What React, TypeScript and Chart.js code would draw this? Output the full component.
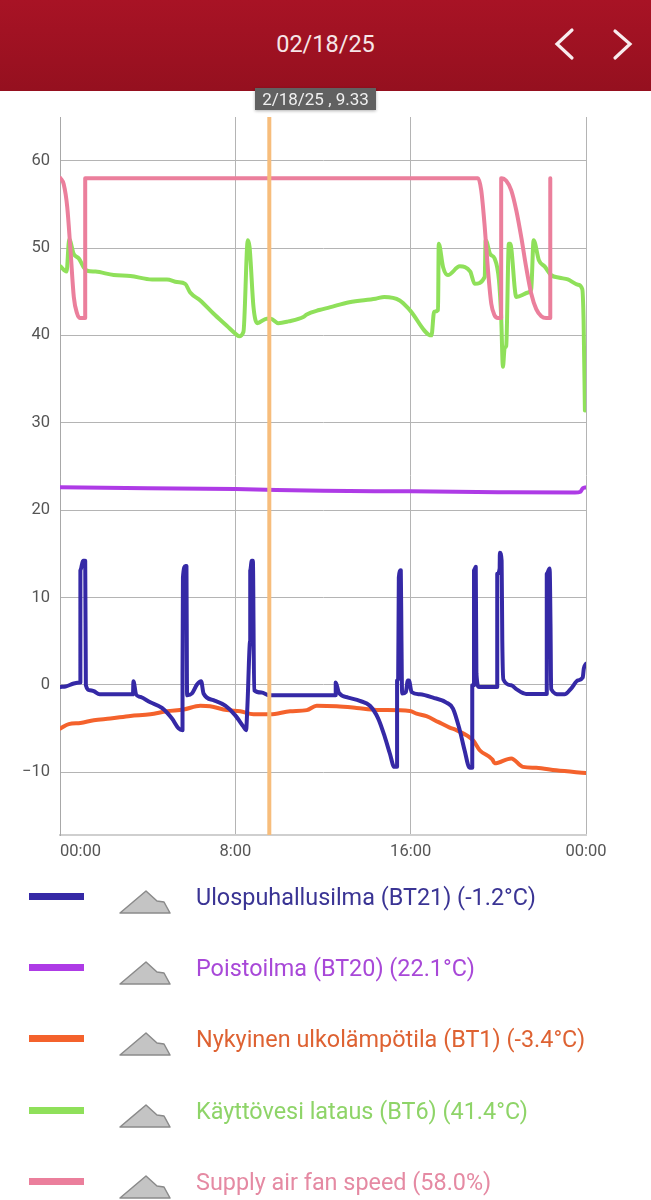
import { useEffect, useRef } from "react"
import { Chart, registerables } from "chart.js"

Chart.register(...registerables)

// [hour of day, value]
const supplyAir = [[0.02,-0.25],[0.25,-0.2],[0.63,0.14],[0.93,0.25],[0.93,13.1],[1.05,14.2],[1.15,14.2],[1.18,-0.06],[1.36,-0.63],[1.54,-0.74],[1.81,-1.1],[3.33,-1.1],[3.35,0.4],[3.47,-1.1],[3.67,-1.4],[4.12,-2.0],[4.65,-2.65],[5.11,-3.87],[5.41,-5.0],[5.59,-5.2],[5.59,1.09],[5.61,12.3],[5.73,13.6],[5.77,13.6],[5.79,1.3],[5.8,-1.2],[6.02,-1.0],[6.25,0.02],[6.44,0.4],[6.55,-1.0],[7.0,-1.77],[7.54,-2.4],[8.0,-3.5],[8.37,-4.8],[8.49,-5.2],[8.55,-2.5],[8.68,5.1],[8.68,13.1],[8.75,14.2],[8.8,14.2],[8.86,-0.63],[9.2,-0.9],[9.55,-1.2],[12.58,-1.2],[12.58,0.25],[12.73,-0.94],[13.15,-1.47],[13.68,-1.85],[14.14,-2.4],[14.52,-3.87],[14.82,-5.97],[15.05,-7.87],[15.25,-9.4],[15.38,-9.4],[15.38,0.5],[15.43,0.7],[15.46,12.3],[15.55,13.1],[15.58,5.1],[15.61,-1.0],[15.78,-0.82],[15.87,0.5],[15.92,0.5],[16.04,-0.82],[16.42,-1.09],[17.02,-1.47],[17.63,-2.04],[17.93,-2.72],[18.24,-5.2],[18.46,-7.5],[18.69,-9.5],[18.81,-9.5],[18.81,-0.06],[18.89,-0.06],[18.89,13.1],[18.97,13.5],[19.0,1.3],[19.12,-0.25],[19.95,-0.25],[19.95,12.7],[20.06,13.3],[20.07,15.1],[20.15,14.2],[20.18,5.1],[20.23,0.6],[20.59,-0.06],[20.82,-0.5],[21.27,-1.05],[22.21,-1.05],[22.21,12.7],[22.34,13.3],[22.38,7],[22.41,-0.5],[22.79,-1.1],[23.02,-1.1],[23.32,-0.43],[23.63,0.5],[23.85,0.82],[23.9,1.85],[24,2.4]]
const exhaustAir = [[0,22.6],[4,22.5],[8,22.4],[12,22.2],[16,22.15],[20,22.05],[23.5,22.0],[23.75,22.1],[23.85,22.5],[24,22.6]]
const outdoor = [[0.02,-5.0],[0.4,-4.5],[0.93,-4.37],[1.54,-4.06],[2.3,-3.87],[3.21,-3.57],[4.12,-3.38],[4.88,-3.03],[5.64,-2.84],[6.4,-2.4],[6.85,-2.46],[7.61,-2.9],[8.22,-3.03],[8.83,-3.38],[9.59,-3.38],[10.5,-3.03],[11.26,-2.9],[11.71,-2.4],[12.62,-2.46],[13.53,-2.65],[14.44,-2.88],[15.96,-3.0],[16.27,-3.3],[16.72,-3.6],[17.25,-4.25],[17.78,-4.9],[18.09,-5.2],[18.84,-6.35],[19.15,-7.5],[19.73,-8.56],[19.83,-9.0],[20.59,-8.44],[21.12,-9.4],[21.73,-9.5],[22.64,-9.8],[24,-10.1]]
const hotWater = [[0.02,47.9],[0.3,47.3],[0.42,51],[0.63,49.3],[0.86,48.8],[1.08,47.8],[1.24,47.4],[1.62,47.3],[2.45,46.9],[3.21,46.8],[4.2,46.4],[4.88,46.4],[5.34,46.1],[5.71,45.9],[5.94,44.9],[6.4,44],[7.0,42.5],[7.61,41.1],[8.0,40.2],[8.17,39.9],[8.37,40.4],[8.57,50.9],[8.65,50.1],[8.83,43.2],[9.0,41.4],[9.43,41.9],[9.62,41.9],[9.96,41.4],[10.42,41.6],[11.1,42.1],[11.26,42.4],[11.83,42.9],[12.3,43.2],[13.2,43.8],[14.4,44.2],[14.8,44.4],[15.5,44],[15.96,42.9],[16.95,40],[17.07,42.7],[17.25,42.9],[17.28,50.5],[17.48,47.8],[17.7,46.9],[18.24,47.9],[18.72,47.3],[18.92,45.9],[19.38,46.7],[19.42,50.9],[19.63,49.3],[19.83,48.8],[20.03,46.3],[20.13,42.1],[20.21,36.4],[20.29,38.6],[20.36,38.8],[20.48,50.5],[20.54,50.5],[20.82,44.4],[21.35,44.9],[21.5,45.3],[21.61,50.9],[21.85,48.6],[22.11,47.9],[22.41,46.9],[22.79,46.6],[23.17,46.4],[23.63,45.8],[23.83,45.3],[23.89,41.7],[23.95,31.4]]
const fanSpeed = [[0.02,58],[0.17,57.3],[0.33,54.7],[0.48,49.7],[0.63,44.4],[0.78,42.5],[0.9,42],[1.15,42],[1.15,58],[19.07,58],[19.22,56.6],[19.38,52.4],[19.53,47.4],[19.68,43.6],[19.83,42.3],[19.98,42],[20.13,42],[20.13,58],[20.36,57.7],[20.59,56.6],[20.82,54.3],[21.05,51.2],[21.27,47.8],[21.5,44.8],[21.73,43],[21.96,42.2],[22.18,42],[22.37,42],[22.37,58]]

const cursorHour = 9.55
const yMin = -17.2
const yMax = 65
const yTicks = [-10, 0, 10, 20, 30, 40, 50, 60]
const xTicks = [0, 8, 16, 24]
const xTickLabels = ["00:00", "8:00", "16:00", "00:00"]

const seriesNames = [
  "Ulospuhallusilma (BT21) (-1.2°C)",
  "Poistoilma (BT20) (22.1°C)",
  "Nykyinen ulkolämpötila (BT1) (-3.4°C)",
  "Käyttövesi lataus (BT6) (41.4°C)",
  "Supply air fan speed (58.0%)",
]
const lineColors = ["#3529A6", "#AE3BE6", "#F4622C", "#8FE05A", "#EB7F9C"]
const textColors = ["#3A3494", "#A848D8", "#DE6232", "#8ED468", "#E58AA3"]

const font = "Roboto, sans-serif"

const toPoints = (rows: number[][]) => rows.map(([x, y]) => ({ x, y }))

const lineSet = (data: number[][], color: string) => ({
  data: toPoints(data),
  borderColor: color,
  borderWidth: 4,
  pointRadius: 0,
  cubicInterpolationMode: "monotone" as const,
  borderJoinStyle: "round" as const,
  borderCapStyle: "round" as const,
})

// first x label sits to the right of its tick, the others are centred
const xLabelPlugin = {
  id: "xLabels",
  afterDraw(chart: Chart) {
    const { ctx, scales } = chart
    ctx.save()
    ctx.font = `16.5px ${font}`
    ctx.fillStyle = "#555"
    ctx.textBaseline = "middle"
    xTicks.forEach((tick, i) => {
      ctx.textAlign = i === 0 ? "left" : "center"
      ctx.fillText(xTickLabels[i], scales.x.getPixelForValue(tick), scales.y.bottom + 17)
    })
    ctx.restore()
  },
}

function HistoryChart() {
  const chartRef = useRef<HTMLCanvasElement>(null)

  useEffect(() => {
    if (!chartRef.current) return

    const chart = new Chart(chartRef.current, {
      type: "line",
      data: {
        datasets: [
          {
            data: toPoints([[cursorHour, yMin], [cursorHour, yMax]]),
            borderColor: "#F7BD7C",
            borderWidth: 4,
            pointRadius: 0,
          },
          lineSet(fanSpeed, lineColors[4]),
          lineSet(hotWater, lineColors[3]),
          lineSet(supplyAir, lineColors[0]),
          lineSet(outdoor, lineColors[2]),
          lineSet(exhaustAir, lineColors[1]),
        ],
      },
      options: {
        responsive: false,
        animation: false,
        layout: { padding: { top: 26, right: 65, left: 0, bottom: 0 } },
        plugins: { legend: { display: false }, tooltip: { enabled: false } },
        scales: {
          x: {
            type: "linear",
            min: 0,
            max: 24,
            afterBuildTicks: (scale) => {
              scale.ticks = xTicks.map((value) => ({ value }))
            },
            afterFit: (scale) => {
              scale.height = 36
            },
            ticks: { display: false },
            grid: { color: "#b4b4b4", drawTicks: false },
            border: { color: "#cfcfcf", width: 2 },
          },
          y: {
            min: yMin,
            max: yMax,
            afterBuildTicks: (scale) => {
              scale.ticks = yTicks.map((value) => ({ value }))
            },
            afterFit: (scale) => {
              scale.width = 60
            },
            ticks: {
              padding: 10,
              color: "#555",
              font: { family: font, size: 16.5 },
              callback: (value) => String(value).replace("-", "\u2212"),
            },
            grid: { color: "#b4b4b4", drawTicks: false },
            border: { color: "#a8a8a8" },
          },
        },
      },
      plugins: [xLabelPlugin],
    })

    return () => chart.destroy()
  }, [])

  return <canvas ref={chartRef} width={651} height={780} style={{ position: "absolute", top: 91, left: 0 }} />
}

export default function App() {
  return (
    <div style={{ position: "absolute", top: 0, left: 0, width: 651, height: 1200, overflow: "hidden", background: "#fff", fontFamily: font }}>
      <HistoryChart />
      <div style={{ position: "absolute", top: 0, left: 0, width: 651, height: 91, background: "linear-gradient(#A81325, #95101F)" }}>
        <div style={{ position: "absolute", top: 30, left: 0, width: 651, textAlign: "center", color: "#f6e6e8", fontSize: 23.5, lineHeight: "28px" }}>
          02/18/25
        </div>
        <svg width={651} height={91} style={{ position: "absolute", top: 0, left: 0 }}>
          <polyline points="572,30 557,44 572,58" fill="none" stroke="#f8ecee" strokeWidth={3.2} strokeLinecap="round" />
          <polyline points="615,31 630,44 615,58" fill="none" stroke="#f8ecee" strokeWidth={3.2} strokeLinecap="round" />
        </svg>
      </div>
      <div style={{ position: "absolute", top: 88, left: 255, width: 121, height: 22, background: "#616161", color: "#f0f0f0", fontSize: 17, lineHeight: "22px", textAlign: "center", boxShadow: "0 1px 3px rgba(0,0,0,0.3)" }}>
        2/18/25 , 9.33
      </div>
      {seriesNames.map((name, i) => {
        const top = 862 + i * 71.2
        return (
          <div key={name} style={{ position: "absolute", left: 0, top, width: 651, height: 71 }}>
            <div style={{ position: "absolute", left: 29, top: 31, width: 55, height: 7, background: lineColors[i] }} />
            <svg width={60} height={30} style={{ position: "absolute", left: 115, top: 25 }}>
              <polygon points="5,26 31,4 42,14 49,15 55,26" fill="#c4c4c4" stroke="#8a8a8a" strokeWidth={1.5} strokeLinejoin="round" />
            </svg>
            <div style={{ position: "absolute", left: 196, top: 19, color: textColors[i], fontSize: 23.4, lineHeight: "32px", whiteSpace: "nowrap" }}>
              {name}
            </div>
          </div>
        )
      })}
    </div>
  )
}
